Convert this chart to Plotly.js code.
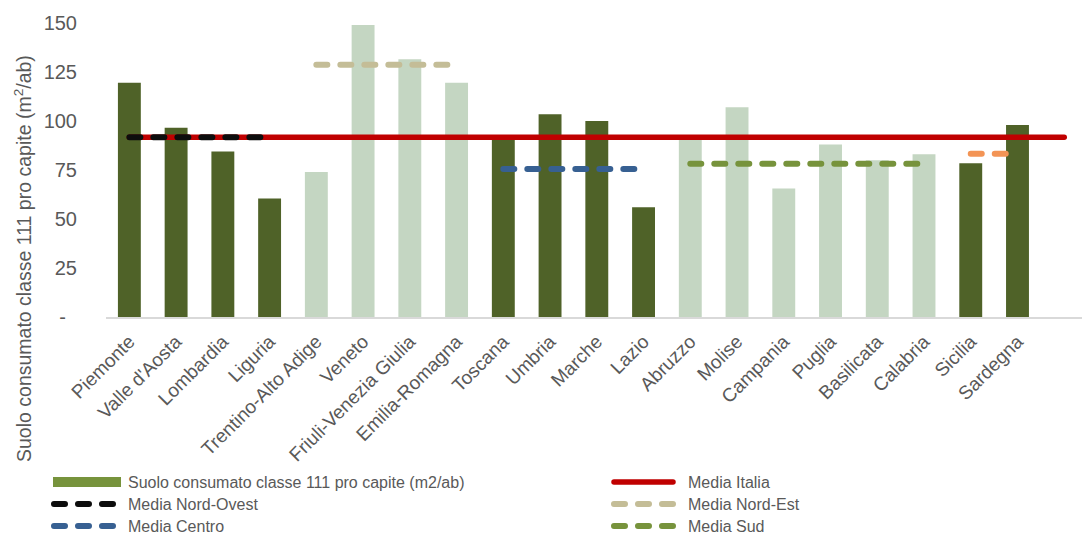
<!DOCTYPE html>
<html>
<head>
<meta charset="utf-8">
<script src="https://cdn.plot.ly/plotly-3.0.1.min.js"></script>
<style>html,body{margin:0;padding:0;background:#fff;}#chart{width:1082px;height:535px;}</style>
</head>
<body>
<div id="chart"></div>
<script>
// ---- data ----
const regions = ["Piemonte","Valle d'Aosta","Lombardia","Liguria","Trentino-Alto Adige","Veneto","Friuli-Venezia Giulia","Emilia-Romagna","Toscana","Umbria","Marche","Lazio","Abruzzo","Molise","Campania","Puglia","Basilicata","Calabria","Sicilia","Sardegna"];
const suoloProCapite = [119.5, 96.5, 84.5, 60.5, 74, 149, 131.5, 119.5, 91, 103.5, 100, 56, 91, 107, 65.5, 88, 80, 83, 78.5, 98];
const macroArea = ["NO","NO","NO","NO","NE","NE","NE","NE","C","C","C","C","S","S","S","S","S","S","I","I"];
const mediaItalia = 91.7;
const mediaNordOvest = 91.7;
const mediaNordEst = 128.7;
const mediaCentro = 75.5;
const mediaSud = 78.2;
const mediaIsole = 83.3;
const yTickVals = [0, 25, 50, 75, 100, 125, 150];
const yTickText = ["-\u00a0\u00a0", "25", "50", "75", "100", "125", "150"];

// ---- helpers ----
const areaRegions = a => regions.filter((r, i) => macroArea[i] === a);
const flat = (xs, v) => xs.map(() => v);
const extra = " ";
const italiaX = regions.concat([extra]);

const DARK = "#4F6228", LIGHT = "#C4D6C2";
const barColors = macroArea.map(a => (a === "NE" || a === "S") ? LIGHT : DARK);
const dash = "11px,13px";

const traces = [
  {type: "bar", x: regions, y: suoloProCapite, marker: {color: barColors}, width: 0.49, showlegend: false, hoverinfo: "x+y"},
  {type: "scatter", mode: "lines", x: [null], y: [null], name: "Suolo consumato classe 111 pro capite (m2/ab)", line: {color: "#77933C", width: 10.5}, legend: "legend"},
  {type: "scatter", mode: "lines", x: italiaX, y: flat(italiaX, mediaItalia), name: "Media Italia", line: {color: "#C00000", width: 5.5}, legend: "legend2"},
  {type: "scatter", mode: "lines", x: areaRegions("NO"), y: flat(areaRegions("NO"), mediaNordOvest), name: "Media Nord-Ovest", line: {color: "#0D0D0D", width: 6, dash: dash}, legend: "legend"},
  {type: "scatter", mode: "lines", x: areaRegions("NE"), y: flat(areaRegions("NE"), mediaNordEst), name: "Media Nord-Est", line: {color: "#C4BD97", width: 6, dash: dash}, legend: "legend2"},
  {type: "scatter", mode: "lines", x: areaRegions("C"), y: flat(areaRegions("C"), mediaCentro), name: "Media Centro", line: {color: "#376092", width: 6, dash: dash}, legend: "legend"},
  {type: "scatter", mode: "lines", x: areaRegions("S"), y: flat(areaRegions("S"), mediaSud), name: "Media Sud", line: {color: "#77933C", width: 6, dash: dash}, legend: "legend2"},
  {type: "scatter", mode: "lines", x: areaRegions("I"), y: flat(areaRegions("I"), mediaIsole), name: "Media Isole", line: {color: "#F39455", width: 6, dash: dash}, showlegend: false}
];

const FONT = "Liberation Sans, Arial, sans-serif";
const GRAY = "#595959";
const legendBase = {
  orientation: "v", yanchor: "top", xanchor: "left", bgcolor: "rgba(0,0,0,0)",
  font: {family: FONT, size: 16, color: GRAY}, itemwidth: 69, tracegroupgap: 0, traceorder: "normal"
};
const LEGEND_TOP = 440;      // where Plotly lays the legends out (fits inside the page)
const LEGEND_SHIFT = 25;     // moved down afterwards to the reference position

const layout = {
  width: 1082, height: 535,
  margin: {l: 106, r: 0, t: 23, b: 218, pad: 0},
  paper_bgcolor: "#fff", plot_bgcolor: "#fff",
  font: {family: FONT, color: GRAY},
  showlegend: true,
  xaxis: {
    type: "category", categoryorder: "array", categoryarray: italiaX,
    tickvals: regions, ticktext: regions,
    range: [-0.5, 20.38], tickangle: -45, showgrid: false, zeroline: false,
    showline: true, linecolor: "#D9D9D9", linewidth: 2,
    ticks: "outside", ticklen: 4, tickcolor: "rgba(0,0,0,0)",
    tickfont: {family: FONT, size: 19, color: GRAY}, automargin: false
  },
  yaxis: {
    range: [0, 150], tickvals: yTickVals, ticktext: yTickText,
    showgrid: false, zeroline: false, showline: false,
    ticks: "outside", ticklen: 24, tickcolor: "rgba(0,0,0,0)",
    tickfont: {family: FONT, size: 20, color: GRAY}, automargin: false
  },
  annotations: [{
    text: "Suolo consumato classe 111 pro capite (m<sup>2</sup>/ab)",
    textangle: -90, xref: "paper", yref: "paper",
    x: (23 - 106) / 976, y: (317 - 259) / 294, xanchor: "center", yanchor: "middle",
    showarrow: false, font: {family: FONT, size: 19.5, color: GRAY}
  }],
  legend: Object.assign({}, legendBase, {x: (49 - 106) / 976, y: (317 - LEGEND_TOP) / 294}),
  legend2: Object.assign({}, legendBase, {x: (609 - 106) / 976, y: (317 - LEGEND_TOP) / 294})
};

Plotly.newPlot("chart", traces, layout, {displayModeBar: false, staticPlot: true}).then(() => {
  document.querySelectorAll(".scatterlayer path.js-line").forEach(p => {
    p.style.strokeLinecap = "round";
  });
  const parseT = s => {
    const m = (s || "").match(/translate\(\s*([-\d.e]+)[ ,]+([-\d.e]+)\s*\)/);
    return m ? [parseFloat(m[1]), parseFloat(m[2])] : null;
  };
  document.querySelectorAll("g.infolayer > g").forEach(lg => {
    const cls = lg.getAttribute("class") || "";
    if (!/^legend\d*$/.test(cls)) return;
    const t = parseT(lg.getAttribute("transform"));
    if (t) lg.setAttribute("transform", "translate(" + t[0] + "," + (t[1] + LEGEND_SHIFT) + ")");
    const items = lg.querySelectorAll("g.traces");
    let y0 = null;
    items.forEach((it, i) => {
      const tt = parseT(it.getAttribute("transform"));
      if (tt) {
        if (y0 === null) y0 = tt[1];
        it.setAttribute("transform", "translate(" + tt[0] + "," + (y0 + i * 22) + ")");
      }
      const txt = (it.querySelector("text.legendtext") || {}).textContent || "";
      it.querySelectorAll(".legendlines path").forEach(p => {
        if (txt.indexOf("Suolo") === 0) {
          p.setAttribute("d", "M4,0h68");
          p.style.strokeLinecap = "butt";
        } else if (txt === "Media Italia") {
          p.setAttribute("d", "M5,0h65");
          p.style.strokeLinecap = "round";
        } else {
          p.setAttribute("d", "M5,0h59");
          p.style.strokeLinecap = "round";
        }
      });
    });
  });
});
</script>
</body>
</html>
